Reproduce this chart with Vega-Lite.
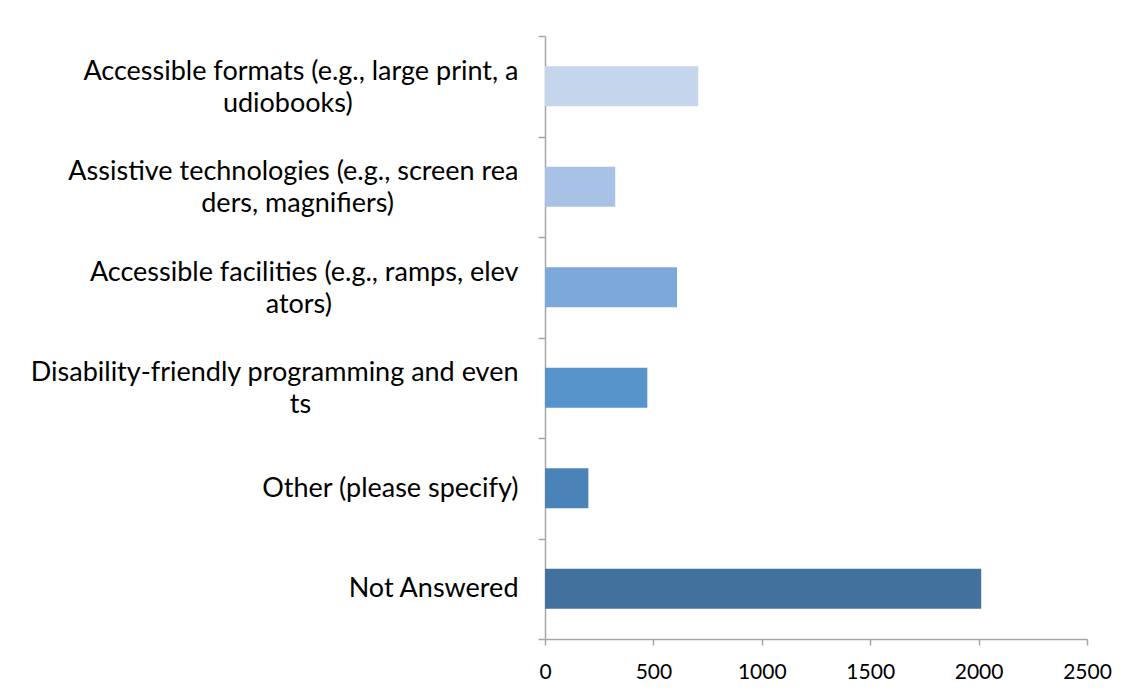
{
  "$schema": "https://vega.github.io/schema/vega-lite/v6.json",
  "width": 542,
  "height": 603,
  "autosize": "none",
  "padding": {"left": 545, "top": 36, "right": 45, "bottom": 58},
  "background": "white",
  "data": {
    "values": [
      {"category": "Accessible formats (e.g., large print, audiobooks)", "count": 707},
      {"category": "Assistive technologies (e.g., screen readers, magnifiers)", "count": 324},
      {"category": "Accessible facilities (e.g., ramps, elevators)", "count": 609},
      {"category": "Disability-friendly programming and events", "count": 472},
      {"category": "Other (please specify)", "count": 200},
      {"category": "Not Answered", "count": 2012}
    ]
  },
  "mark": {"type": "bar"},
  "encoding": {
    "y": {
      "field": "category",
      "type": "nominal",
      "sort": null,
      "title": null,
      "scale": {"paddingInner": 0, "paddingOuter": 0},
      "axis": {
        "tickBand": "extent",
        "domainColor": "#a6a6a6",
        "domainWidth": 1.5,
        "tickColor": "#a6a6a6",
        "tickWidth": 1.5,
        "tickSize": 7,
        "labelPadding": 20,
        "labelFont": "Lato",
        "labelFontSize": 27,
        "labelColor": "#000000",
        "labelLineHeight": 32,
        "labelLimit": 600,
        "labelOffset": {"expr": "datum && datum.value && length(datum.value) > 40 ? -15 : 0"},
        "labelExpr": "length(datum.label) > 40 ? [substring(datum.label, 0, 40), pad(substring(datum.label, 40), length(substring(datum.label, 40)) + round(0.8 * (40 - length(substring(datum.label, 40)))), '\u00a0') + '\u2060'] : datum.label"
      }
    },
    "yOffset": {
      "datum": "all",
      "type": "nominal",
      "scale": {"paddingInner": 0, "paddingOuter": 0.75}
    },
    "x": {
      "field": "count",
      "type": "quantitative",
      "title": null,
      "scale": {"domain": [0, 2500], "nice": false},
      "axis": {
        "values": [0, 500, 1000, 1500, 2000, 2500],
        "format": "d",
        "grid": false,
        "domainColor": "#a6a6a6",
        "domainWidth": 1.5,
        "tickColor": "#a6a6a6",
        "tickWidth": 1.5,
        "tickSize": 6,
        "labelPadding": 16,
        "labelFont": "Lato",
        "labelFontSize": 21,
        "labelColor": "#000000",
        "labelFlush": false
      }
    },
    "color": {
      "field": "category",
      "type": "nominal",
      "sort": null,
      "legend": null,
      "scale": {"range": ["#c5d6ec", "#a7c2e5", "#7ca9da", "#5794cc", "#4a83b7", "#42719d"]}
    }
  },
  "config": {"view": {"stroke": null}}
}
